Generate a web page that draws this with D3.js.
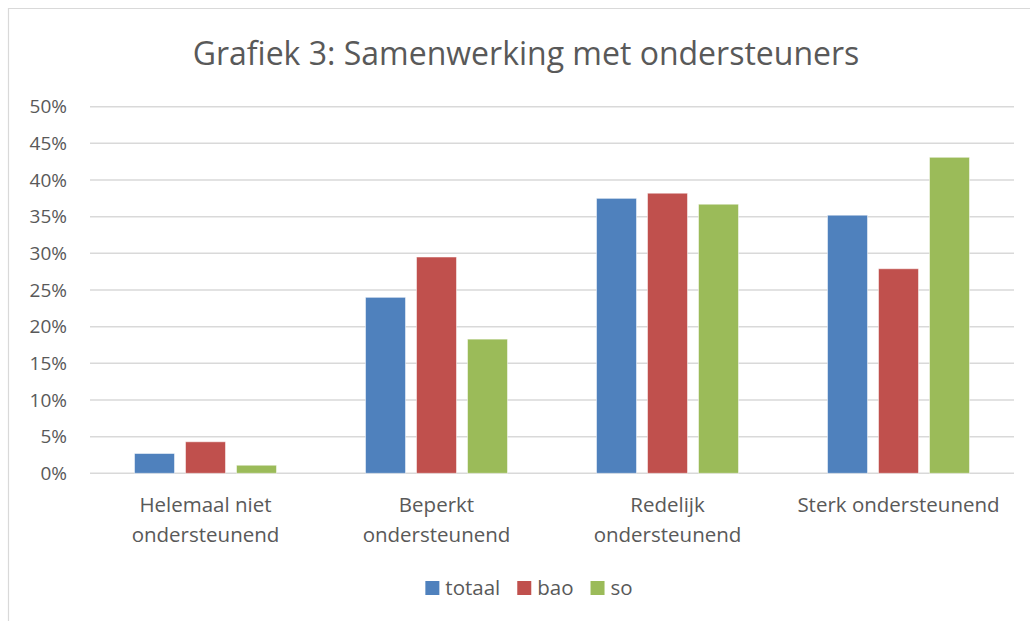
<!DOCTYPE html>
<html>
<head>
<meta charset="utf-8">
<script src="https://cdn.jsdelivr.net/npm/d3@7"></script>
<style>
  body { margin: 0; background: #fff; }
  text { font-family: "Open Sans", sans-serif; fill: #595959; }
</style>
</head>
<body>
<div id="chart"></div>
<script>
// data
var categories = ["Helemaal niet ondersteunend", "Beperkt ondersteunend", "Redelijk ondersteunend", "Sterk ondersteunend"];
var categoryLines = [["Helemaal niet", "ondersteunend"], ["Beperkt", "ondersteunend"], ["Redelijk", "ondersteunend"], ["Sterk ondersteunend"]];
var seriesNames = ["totaal", "bao", "so"];
var totaal = [2.7, 24.0, 37.5, 35.2];
var bao = [4.3, 29.5, 38.2, 27.9];
var so = [1.1, 18.3, 36.7, 43.1];
var yTicks = [0, 5, 10, 15, 20, 25, 30, 35, 40, 45, 50];
var colors = ["#4F81BD", "#C0504D", "#9BBB59"];

var seriesValues = [totaal, bao, so];

var svgWidth = 1030;
var svgHeight = 621;
var plot = { left: 90, right: 1014, top: 106.7, bottom: 473.3 };

var svg = d3.select("#chart")
  .append("svg")
  .attr("width", svgWidth)
  .attr("height", svgHeight);

// chart border (only top and left edges are visible in the picture)
svg.append("path")
  .attr("d", "M8.5,621 L8.5,8.5 L1030,8.5")
  .attr("fill", "none")
  .attr("stroke", "#D9D9D9")
  .attr("stroke-width", 1.2);

// title
svg.append("text")
  .attr("x", 526)
  .attr("y", 65)
  .attr("text-anchor", "middle")
  .style("font-size", "32px")
  .text("Grafiek 3: Samenwerking met ondersteuners");

// scales
var x = d3.scaleBand()
  .domain(categories)
  .range([plot.left, plot.right]);

var xInner = d3.scaleBand()
  .domain(seriesNames)
  .range([0, x.bandwidth()])
  .paddingInner(0.216)
  .paddingOuter(0.873);

var y = d3.scaleLinear()
  .domain([0, 50])
  .range([plot.bottom, plot.top]);

// gridlines
svg.append("g")
  .selectAll("line")
  .data(yTicks)
  .enter()
  .append("line")
  .attr("x1", plot.left)
  .attr("x2", plot.right)
  .attr("y1", d => y(d))
  .attr("y2", d => y(d))
  .attr("stroke", "#D9D9D9")
  .attr("stroke-width", 1.5);

// y axis labels
var yAxis = svg.append("g")
  .attr("transform", "translate(" + plot.left + ",0)")
  .call(d3.axisLeft(y).tickValues(yTicks).tickFormat(d => d + "%").tickSize(0).tickPadding(23));
yAxis.select(".domain").remove();
yAxis.selectAll("text")
  .style("font-size", "19px")
  .style("font-family", "'Open Sans', sans-serif")
  .attr("fill", "#595959");

// bars
var groups = svg.append("g")
  .selectAll("g")
  .data(categories)
  .enter()
  .append("g")
  .attr("transform", d => "translate(" + x(d) + ",0)");

groups.selectAll("rect")
  .data((d, i) => seriesNames.map((s, j) => ({ series: s, value: seriesValues[j][i], color: colors[j] })))
  .enter()
  .append("rect")
  .attr("x", d => xInner(d.series))
  .attr("y", d => y(d.value))
  .attr("width", xInner.bandwidth())
  .attr("height", d => y(0) - y(d.value))
  .attr("fill", d => d.color)
  .attr("stroke", "#fff")
  .attr("stroke-opacity", 0.5)
  .attr("stroke-width", 1);

// category labels
var catLabels = svg.append("g")
  .selectAll("text")
  .data(categories)
  .enter()
  .append("text")
  .attr("x", d => x(d) + x.bandwidth() / 2)
  .attr("y", 512)
  .attr("text-anchor", "middle")
  .style("font-size", "20.5px");

catLabels.selectAll("tspan")
  .data((d, i) => categoryLines[i])
  .enter()
  .append("tspan")
  .attr("x", function() { return d3.select(this.parentNode).attr("x"); })
  .attr("dy", (d, i) => i === 0 ? 0 : 30)
  .text(d => d);

// legend
var legend = svg.append("g");
var legendX = 0;
seriesNames.forEach(function(name, i) {
  var item = legend.append("g").attr("transform", "translate(" + legendX + ",0)");
  item.append("rect")
    .attr("x", 0)
    .attr("y", 581)
    .attr("width", 14)
    .attr("height", 14)
    .attr("fill", colors[i]);
  var t = item.append("text")
    .attr("x", 20)
    .attr("y", 595)
    .style("font-size", "20.5px")
    .text(name);
  legendX += 20 + t.node().getComputedTextLength() + 17;
});
var legendWidth = legendX - 17;
legend.attr("transform", "translate(" + (529 - legendWidth / 2) + ",0)");
</script>
</body>
</html>
